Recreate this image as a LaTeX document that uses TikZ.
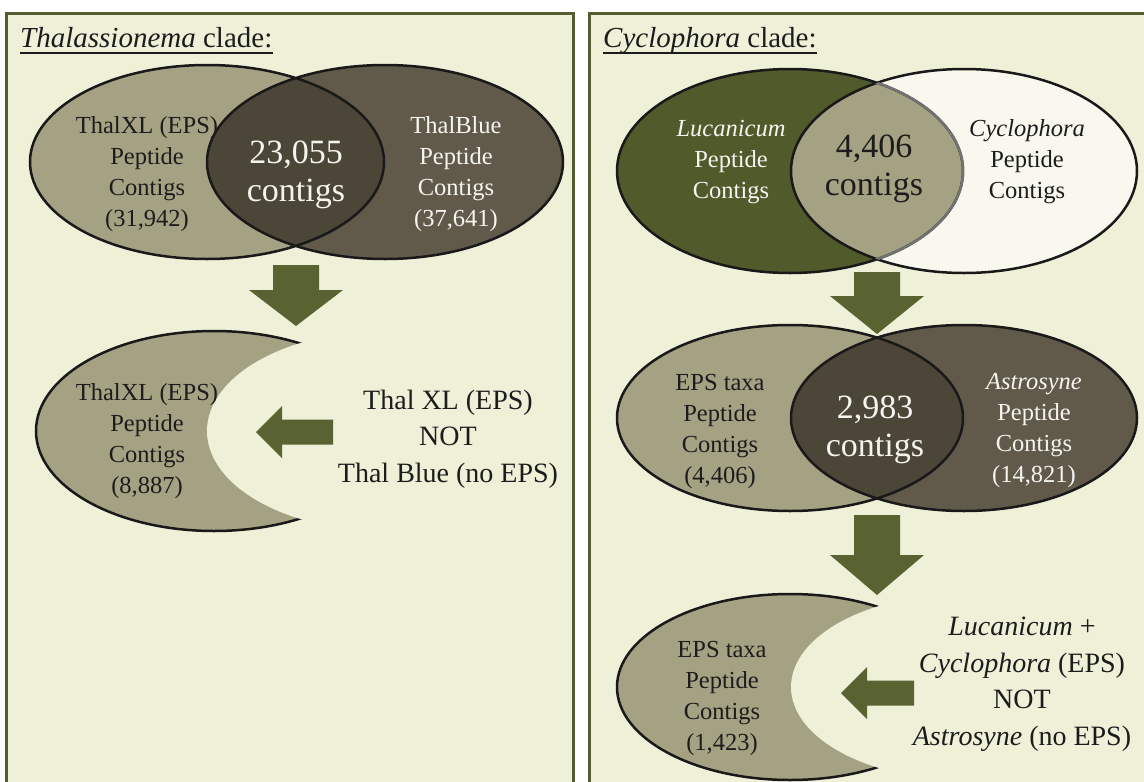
\documentclass[tikz,border=0pt]{standalone}
\usepackage{fontspec}
\setmainfont{Liberation Serif}
\usetikzlibrary{positioning}
\definecolor{panelbg}{RGB}{239,240,216}
\definecolor{panelline}{RGB}{84,94,50}
\definecolor{khaki}{RGB}{165,162,131}
\definecolor{taupe}{RGB}{97,90,75}
\definecolor{lensdark}{RGB}{76,70,57}
\definecolor{olivedark}{RGB}{80,90,42}
\definecolor{offwhite}{RGB}{248,248,238}
\definecolor{arrowgreen}{RGB}{88,99,49}
\definecolor{inkdark}{RGB}{28,28,28}
\definecolor{inklight}{RGB}{245,245,240}
\tikzset{
  panel/.style={draw=panelline, line width=3pt, fill=panelbg},
  venn/.style={draw=black!90, line width=2.5pt},
  blockarr/.style={fill=arrowgreen},
  uline/.style={draw=inkdark, line width=1.3pt},
  vtxt/.style={font=\fontsize{24.5}{31}\selectfont, align=center, text=inkdark, inner sep=0pt},
  vbig/.style={font=\fontsize{34}{38}\selectfont, align=center, text=inklight, inner sep=0pt},
  atxt/.style={font=\fontsize{28}{36.5}\selectfont, align=center, text=inkdark, inner sep=0pt},
  ttl/.style={font=\fontsize{29}{34}\selectfont, anchor=base west, inner sep=0pt, text=inkdark},
}
% block arrows: x, top, head base, tip / tip x, tip y, tail x
\newcommand{\downblock}[4]{%
  \fill[blockarr] (#1-23,#2) -- (#1+23,#2) -- (#1+23,#3) -- (#1+47,#3) -- (#1,#4)
    -- (#1-47,#3) -- (#1-23,#3) -- cycle;}
\newcommand{\leftblock}[3]{%
  \fill[blockarr] (#1,#2) -- (#1+26,#2-26) -- (#1+26,#2-12.5) -- (#3,#2-12.5)
    -- (#3,#2+12.5) -- (#1+26,#2+12.5) -- (#1+26,#2+26) -- cycle;}

\begin{document}
\begin{tikzpicture}[x=1pt,y=-1pt]
  \clip (0,0) rectangle (1144,782);
  % panels
  \draw[panel] (6,13) rectangle (573,800);
  \draw[panel] (589,13) rectangle (1160,800);

  % ---- Thalassionema clade
  \node[ttl] (lt) at (20,47) {\textit{Thalassionema} clade:};
  \draw[uline] ([yshift=-6pt]lt.base west) -- ([yshift=-6pt]lt.base east);
  % venn
  \fill[khaki] (207,162) ellipse [x radius=177, y radius=97];
  \fill[taupe] (385,162) ellipse [x radius=178, y radius=97];
  \begin{scope}
    \clip (207,162) ellipse [x radius=177, y radius=97];
    \fill[lensdark] (385,162) ellipse [x radius=178, y radius=97];
  \end{scope}
  \draw[venn] (207,162) ellipse [x radius=177, y radius=97]
              (385,162) ellipse [x radius=178, y radius=97];
  \node[vtxt] (xl) at (147,174) {ThalXL (EPS)\\Peptide\\Contigs\\(31,942)};
  \node[vbig] (xlb) at (296,175) {23,055\\contigs};
  \node[vtxt, text=inklight] (bl) at (456,174) {ThalBlue\\Peptide\\Contigs\\(37,641)};
  \downblock{296}{265}{290}{326}
  % crescent
  \filldraw[khaki, draw=black!90, line width=2.5pt] (214,431) ellipse [x radius=178, y radius=100];
  \fill[panelbg] (385,431) ellipse [x radius=178, y radius=100];
  \node[vtxt] (xlc) at (147,441) {ThalXL (EPS)\\Peptide\\Contigs\\(8,887)};
  \leftblock{256}{432}{333}
  \node[atxt] (xlnot) at (448,439) {Thal XL (EPS)\\NOT\\Thal Blue (no EPS)};

  % ---- Cyclophora clade
  \node[ttl] (rt) at (603,47) {\textit{Cyclophora} clade:};
  \draw[uline] ([yshift=-6pt]rt.base west) -- ([yshift=-6pt]rt.base east);
  % top venn
  \fill[olivedark] (790,171) ellipse [x radius=173, y radius=102];
  \fill[offwhite] (964,171) ellipse [x radius=173, y radius=102];
  \begin{scope}
    \clip (790,171) ellipse [x radius=173, y radius=102];
    \fill[khaki] (964,171) ellipse [x radius=173, y radius=102];
  \end{scope}
  \draw[venn] (790,171) ellipse [x radius=173, y radius=102]
              (964,171) ellipse [x radius=173, y radius=102];
  \begin{scope}
    \clip (964,171) ellipse [x radius=173, y radius=102];
    \draw[venn, draw=black!55] (790,171) ellipse [x radius=173, y radius=102];
  \end{scope}
  \node[vtxt, text=inklight] (lu) at (731,162) {\textit{Lucanicum}\\Peptide\\Contigs};
  \node[vbig, text=inkdark] (lucy) at (874,169) {4,406\\contigs};
  \node[vtxt] (cy) at (1027,162) {\textit{Cyclophora}\\Peptide\\Contigs};
  \downblock{877}{272}{296}{334}
  % middle venn
  \fill[khaki] (790,418) ellipse [x radius=173, y radius=93];
  \fill[taupe] (964,418) ellipse [x radius=173, y radius=93];
  \begin{scope}
    \clip (790,418) ellipse [x radius=173, y radius=93];
    \fill[lensdark] (964,418) ellipse [x radius=173, y radius=93];
  \end{scope}
  \draw[venn] (790,418) ellipse [x radius=173, y radius=93]
              (964,418) ellipse [x radius=173, y radius=93];
  \node[vtxt] (eps) at (720,431) {EPS taxa\\Peptide\\Contigs\\(4,406)};
  \node[vbig] (epsas) at (875,430) {2,983\\contigs};
  \node[vtxt, text=inklight] (as) at (1034,431) {\textit{Astrosyne}\\Peptide\\Contigs\\(14,821)};
  \downblock{877}{515}{555}{595}
  % crescent
  \filldraw[khaki, draw=black!90, line width=2.5pt] (790,687) ellipse [x radius=173, y radius=93];
  \fill[panelbg] (964,687) ellipse [x radius=173, y radius=93];
  \node[vtxt] (epsc) at (722,698) {EPS taxa\\Peptide\\Contigs\\(1,423)};
  \leftblock{841}{693}{914}
  \node[atxt] (epsnot) at (1022,684) {\textit{Lucanicum} +\\\textit{Cyclophora} (EPS)\\NOT\\\textit{Astrosyne} (no EPS)};
\end{tikzpicture}
\end{document}
